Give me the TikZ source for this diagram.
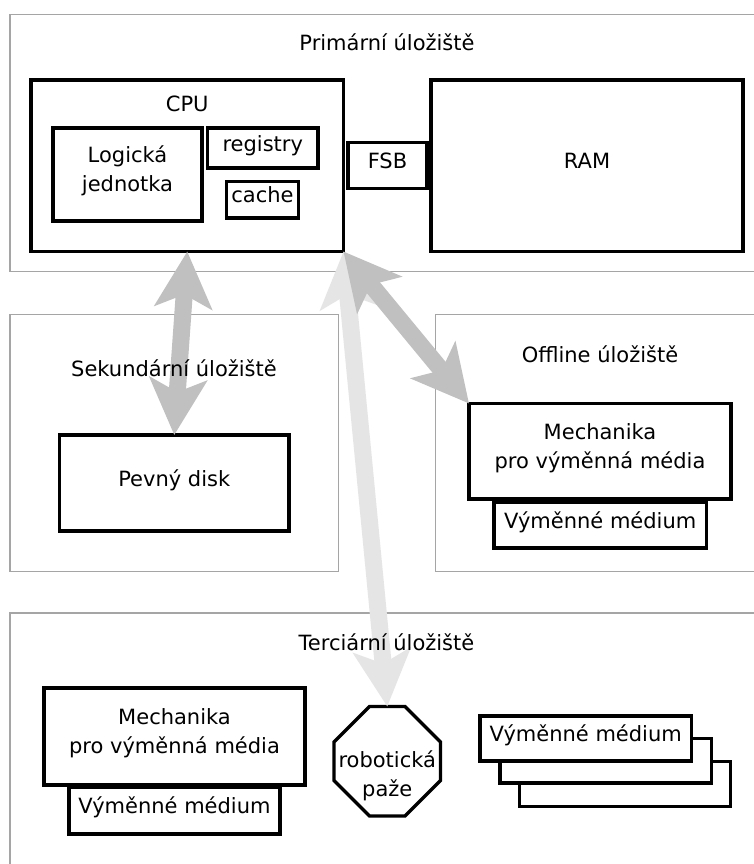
\documentclass[tikz,border=0pt]{standalone}
\usepackage{fontspec}
\setmainfont{DejaVu Sans}
\usetikzlibrary{arrows.meta,calc}
\definecolor{framegray}{RGB}{165,165,165}
\definecolor{arrowdark}{RGB}{192,192,192}
\definecolor{arrowlight}{RGB}{229,229,229}
\begin{document}
\begin{tikzpicture}[x=1pt,y=-1pt,
  every node/.style={font=\fontsize{21}{28.5}\selectfont, inner sep=0pt, outer sep=0pt},
  outerbox/.style={draw=framegray, line width=1.2pt, fill=white},
  blackbox/.style={draw=black, line width=3.3pt, fill=white, text height=6.4pt, text depth=0pt},
  multitext/.style={align=center},
  titletext/.style={anchor=base},
  fatarrow/.style={line width=17pt, <->, >={Stealth[length=56pt,width=57pt,inset=13pt]}},
]
\useasboundingbox (0,0) rectangle (754,864);
\fill[white] (0,0) rectangle (754,864);
\clip (0,0) rectangle (754,864);

% outer frames
\node[outerbox, minimum width=760pt, minimum height=257.4pt] (prim) at (390,143) {};
\node[outerbox, minimum width=328.3pt, minimum height=257.2pt] (sec) at (174.15,443.1) {};
\node[outerbox, minimum width=334.3pt, minimum height=257.2pt] (off) at (602.85,443.1) {};
\node[outerbox, minimum width=760pt, minimum height=267pt] (ter) at (390,746.5) {};

% primary storage
\node[blackbox, minimum width=312.5pt, minimum height=171.5pt] (cpu) at (187.25,165.75) {};
\node[blackbox, minimum width=312pt, minimum height=171.5pt] (ram) at (587,165.75) {RAM};
\node[blackbox, minimum width=79pt, minimum height=46pt] (fsb) at (387.5,165.5) {FSB};
\node[blackbox, minimum width=149pt, minimum height=93pt] (logic) at (127.5,174.5) {};
\node[multitext] (logictxt) at (127.5,170.7) {Logická\\jednotka};
\node[blackbox, minimum width=110.5pt, minimum height=40pt] (reg) at (262.75,148) {registry};
\node[blackbox, minimum width=72pt, minimum height=36.5pt] (cache) at (262.5,199.75) {cache};
\node[titletext] (cputxt) at (187.25,111.7) {CPU};

% secondary storage
\node[blackbox, minimum width=229.5pt, minimum height=96pt] (disk) at (174.25,483) {Pevný disk};

% offline storage
\node[blackbox, minimum width=212.5pt, minimum height=46pt] (omed) at (600.25,525) {Výměnné médium};
\node[blackbox, minimum width=262pt, minimum height=95.5pt] (omech) at (600,451.25) {};
\node[multitext] (omechtxt) at (600,448) {Mechanika\\pro výměnná média};

% tertiary storage
\node[blackbox, minimum width=211pt, minimum height=47pt] (tmed) at (174.5,810.5) {Výměnné médium};
\node[blackbox, minimum width=261pt, minimum height=97pt] (tmech) at (174.5,736.5) {};
\node[multitext] (tmechtxt) at (174.5,733.4) {Mechanika\\pro výměnná média};

\node[minimum width=106.5pt, minimum height=109.5pt] (rob) at (387.25,761.25) {};
\draw[line width=3.3pt, fill=white]
  ($(rob.north west)+(35.5,0)$) -- ($(rob.north east)+(-35.5,0)$) --
  ($(rob.north east)+(0,35.5)$) -- ($(rob.south east)+(0,-35.5)$) --
  ($(rob.south east)+(-35.5,0)$) -- ($(rob.south west)+(35.5,0)$) --
  ($(rob.south west)+(0,-35.5)$) -- ($(rob.north west)+(0,35.5)$) -- cycle;
\node[multitext] (robtxt) at (387.25,775.7) {robotická\\paže};

\node[blackbox, minimum width=211pt, minimum height=45pt] (stackc) at (625,784) {};
\node[blackbox, minimum width=211.5pt, minimum height=44.5pt] (stackb) at (605.75,760.75) {};
\node[blackbox, minimum width=211.5pt, minimum height=45pt] (stacka) at (585.75,738.5) {Výměnné médium};

% connectors
\draw[fatarrow, arrowdark] (cpu.south) -- (disk.north);
\draw[fatarrow, arrowlight] (cpu.south east) -- (rob.north);
\draw[fatarrow, arrowdark] (cpu.south east) -- (omech.north west);

% titles
\node[titletext] (primtxt) at (387,50.7) {Primární úložiště};
\node[titletext] (sectxt) at (174,376) {Sekundární úložiště};
\node[titletext] (offtxt) at (600,362.3) {Offline úložiště};
\node[titletext] (tertxt) at (386.5,650.7) {Terciární úložiště};
\end{tikzpicture}
\end{document}
